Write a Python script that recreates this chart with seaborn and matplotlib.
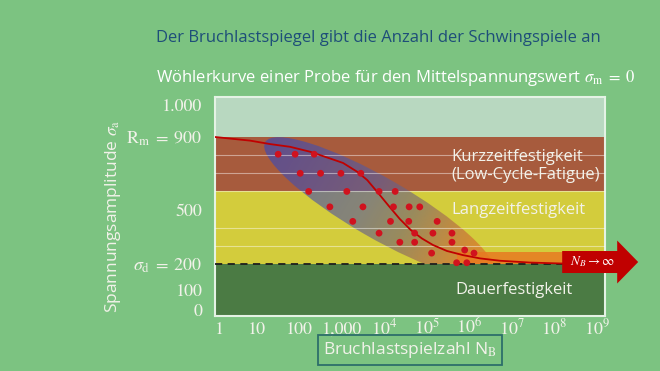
import numpy as np
import pandas as pd
import matplotlib
matplotlib.use("Agg")
import matplotlib.pyplot as plt
import matplotlib.transforms as mtransforms
from matplotlib.patches import Ellipse, FancyArrow
from matplotlib.colors import LinearSegmentedColormap
from matplotlib.ticker import NullFormatter
import seaborn as sns

sns.set_theme(style="white")
plt.rcParams["font.family"] = ["Open Sans", "DejaVu Sans"]
plt.rcParams["mathtext.fontset"] = "stix"

# Wöhlerkurve: log10(N_B) und Spannungsamplitude sigma_a
curve_logN = [0, 0.83, 1.3, 1.77, 2.24, 2.71, 3.02, 3.35, 3.59, 3.85, 4.11,
              4.36, 4.62, 4.88, 5.14, 5.47, 5.85, 6.25, 6.72, 7.43, 8.14, 9.2]
curve_sigma = [900, 880, 861, 846, 819, 782, 757, 709, 663, 591, 517,
               448, 387, 341, 305, 272, 249, 231, 218, 208, 203, 200]

# Versuchspunkte (Bruchlastspiegel)
pts_logN = [1.49, 1.89, 2.34,
            2.01, 2.49, 2.97, 3.44,
            2.21, 3.11, 3.87, 4.25,
            2.71, 3.49, 4.21, 4.58, 4.83,
            3.25, 4.14, 4.57, 5.24,
            3.87, 4.71, 5.14, 5.59,
            4.36, 4.71, 5.59,
            5.11, 6.11, 5.89,
            5.70, 5.94]
pts_sigma = [805, 805, 805,
             700, 700, 700, 700,
             600, 600, 600, 600,
             515, 515, 515, 515, 515,
             435, 435, 435, 435,
             370, 370, 370, 370,
             320, 320, 320,
             260, 260, 277,
             207, 207]

# Bereichsgrenzen
sigma_d = 200     # Dauerfestigkeit
sigma_lz = 600    # Grenze Langzeit / Kurzzeit
R_m = 900         # Zugfestigkeit

# Streuband, Übergangsstreifen, Pfeil
band_center = (3.88, 508)
strip_logN = [5.7, 9.2]
strip_sigma = [200, 266]
arrow_start = (8.19, 211)

ytick_values = [0, 100, 200, 500, 900, 1000]
ytick_labels = ["0", "100", r"$\sigma_\mathrm{d}\;=\;200$", "500",
                r"$\mathrm{R_m}\;=\;900$", "1.000"]
xtick_exp = [0, 1, 2, 3, 4, 5, 6, 7, 8, 9]
xtick_labels = ["1", "10", "100", "1,000", r"$10^4$", r"$10^5$",
                r"$10^6$", r"$10^7$", r"$10^8$", r"$10^9$"]

# schematische Spannungsachse (nicht linear)
axis_sigma = [-200, 0, 100, 200, 900, 1000, 1200]
axis_level = [-1.863, 0.329, 1.425, 2.849, 9.808, 11.562, 15.066]

bg = "#7CC381"
txt = "#F2F2EA"
red = "#C00000"

fig = plt.figure(figsize=(6.6, 3.71), dpi=100, facecolor=bg)
ax = fig.add_axes([215 / 660, 55 / 371, 390 / 660, 219 / 371])
ax.set_xscale("log")
ax.set_yscale("function", functions=(lambda s: np.interp(s, axis_sigma, axis_level),
                                     lambda u: np.interp(u, axis_level, axis_sigma)))

curve = pd.DataFrame({"N": 10.0 ** np.array(curve_logN), "sigma": curve_sigma})
pts = pd.DataFrame({"N": 10.0 ** np.array(pts_logN), "sigma": pts_sigma})
sns.lineplot(data=curve, x="N", y="sigma", color=red, lw=1.3, ax=ax, zorder=4)
sns.scatterplot(data=pts, x="N", y="sigma", color="#D0121E", s=24,
                edgecolor="none", ax=ax, zorder=5)

ylo, yhi = -30, 1025
ax.set_xlim(1, 10 ** 9.2)
ax.set_ylim(ylo, yhi)

# Bereiche
ax.axhspan(R_m, yhi, color="#B8D8C0", lw=0, zorder=0.5)
ax.axhspan(sigma_lz, R_m, color="#A75B3D", lw=0, zorder=0.5)
ax.axhspan(sigma_d, sigma_lz, color="#D3CC3C", lw=0, zorder=0.5)
ax.axhspan(ylo, sigma_d, color="#4B7B44", lw=0, zorder=1.0)
ax.axhline(sigma_d, color="#1E1E1E", lw=1.3, ls=(0, (4, 3)), zorder=3)

ax.fill_between(10.0 ** np.array(strip_logN), strip_sigma[0], strip_sigma[1],
                color="#E87A22", alpha=0.85, lw=0, zorder=0.9)

# Streuband mit Farbverlauf
ell_tr = fig.dpi_scale_trans + mtransforms.ScaledTranslation(
    10 ** band_center[0], band_center[1], ax.transData)
ell = Ellipse((0, 0), width=2.64, height=0.6, angle=-30, transform=ell_tr,
              fc="none", ec="none")
ax.add_patch(ell)
cx, cy = ax.transData.transform((10 ** band_center[0], band_center[1]))
bb = ax.bbox
gx, gy = np.meshgrid(np.linspace(0, 1, 400), np.linspace(0, 1, 220))
px = bb.x0 + gx * bb.width
py = bb.y0 + gy * bb.height
ang = np.deg2rad(30)
t = ((px - cx) * np.cos(ang) - (py - cy) * np.sin(ang)) / 132
t = np.clip((t + 1) / 2, 0, 1)
grad = LinearSegmentedColormap.from_list(
    "band", [(0, "#3A48B8"), (0.45, "#5E5E98"), (0.62, "#7A6870"), (0.82, "#C4683C"), (1, "#F06E14")])
im = ax.imshow(t, cmap=grad, extent=(0, 1, 0, 1), transform=ax.transAxes,
               origin="lower", aspect="auto", alpha=0.65, zorder=0.8,
               interpolation="bilinear")
im.set_clip_path(ell)
ax.set_xlim(1, 10 ** 9.2)
ax.set_ylim(ylo, yhi)

# Pfeil N_B -> unendlich
arr_tr = fig.dpi_scale_trans + mtransforms.ScaledTranslation(
    10 ** arrow_start[0], arrow_start[1], ax.transData)
ax.add_patch(FancyArrow(0, 0, 0.76, 0, width=0.22, head_width=0.43,
                        head_length=0.21, length_includes_head=True,
                        transform=arr_tr, fc=red, ec="none",
                        clip_on=False, zorder=6))
ax.text(0.3, 0, r"$N_B \rightarrow \infty$", transform=arr_tr, ha="center",
        va="center", color="white", fontsize=9.5, zorder=7, clip_on=False)

# Bereichsbeschriftungen
ax.text(0.605, 0.684, "Kurzzeitfestigkeit\n(Low-Cycle-Fatigue)", transform=ax.transAxes,
        ha="left", va="center", color=txt, fontsize=12, linespacing=1.15, zorder=6)
ax.text(0.605, 0.484, "Langzeitfestigkeit", transform=ax.transAxes,
        ha="left", va="center", color=txt, fontsize=12, zorder=6)
ax.text(0.767, 0.119, "Dauerfestigkeit", transform=ax.transAxes,
        ha="center", va="center", color=txt, fontsize=12, zorder=6)

# Achsen
ax.set_xticks(10.0 ** np.array(xtick_exp), xtick_labels)
ax.set_xticks(10.0 ** np.arange(1, 9), minor=True)
ax.set_yticks(ytick_values, ytick_labels)
ax.set_yticks(np.arange(100, 1000, 100), minor=True)
ax.xaxis.set_minor_formatter(NullFormatter())
ax.yaxis.set_minor_formatter(NullFormatter())
ax.tick_params(axis="both", which="both", length=0, labelsize=13, labelcolor=txt)
ax.tick_params(axis="y", pad=9)
ax.tick_params(axis="x", pad=13)
for lbl in ax.get_xticklabels():
    lbl.set_fontfamily("STIXGeneral")
    lbl.set_va("baseline")
ax.get_xticklabels()[0].set_ha("left")
for lbl in ax.get_yticklabels():
    lbl.set_fontfamily("STIXGeneral")
ax.set_axisbelow(False)
ax.grid(False, which="major")
ax.grid(True, which="minor", color="white", alpha=0.45, lw=0.8)
for sp in ax.spines.values():
    sp.set_color("#E4F2E4")
    sp.set_linewidth(1.5)

ax.set_xlabel(r"Bruchlastspielzahl N$_\mathrm{B}$", color=txt, fontsize=12.5, va="center",
              bbox=dict(boxstyle="square,pad=0.28", fc="none", ec="#2D6E6A", lw=1.3))
ax.xaxis.set_label_coords(0.5, -0.155)
ax.set_ylabel(r"Spannungsamplitude $\sigma_\mathrm{a}$", color=txt, fontsize=12.5, va="center")
ax.yaxis.set_label_coords(-0.2615, 0.4566)

fig.text(156 / 660, 1 - 38 / 371, "Der Bruchlastspiegel gibt die Anzahl der Schwingspiele an",
         ha="left", va="center", color="#1E4E79", fontsize=12)
fig.text(156 / 660, 1 - 78 / 371,
         r"Wöhlerkurve einer Probe für den Mittelspannungswert $\sigma_\mathrm{m}\;=\;0$",
         ha="left", va="center", color="white", fontsize=12)

fig.savefig("out.png", dpi=100, facecolor=bg)
